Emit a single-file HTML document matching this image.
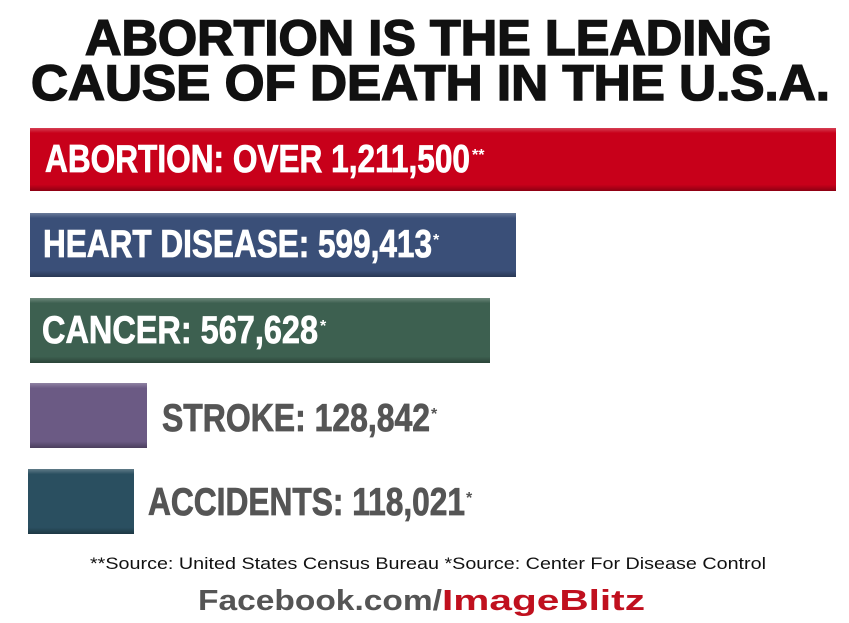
<!DOCTYPE html>
<html><head><meta charset="utf-8"><style>
html,body{margin:0;padding:0;background:#fff;width:849px;height:623px;overflow:hidden}
svg{display:block}
</style></head><body>
<svg width="849" height="623" viewBox="0 0 849 623" xmlns="http://www.w3.org/2000/svg">
<defs>
<linearGradient id="sh" x1="0" y1="0" x2="0" y2="1">
<stop offset="0" stop-color="#fff" stop-opacity="0.25"/>
<stop offset="0.08" stop-color="#fff" stop-opacity="0"/>
<stop offset="0.9" stop-color="#000" stop-opacity="0"/>
<stop offset="1" stop-color="#000" stop-opacity="0.3"/>
</linearGradient>
</defs>
<g font-family="'Liberation Sans',Arial,sans-serif" font-weight="bold">
<text x="85" y="55" font-size="50" textLength="687" lengthAdjust="spacingAndGlyphs" fill="#111" stroke="#111" stroke-width="1.5">ABORTION IS THE LEADING</text>
<text x="31" y="100" font-size="50" textLength="799" lengthAdjust="spacingAndGlyphs" fill="#111" stroke="#111" stroke-width="1.5">CAUSE OF DEATH IN THE U.S.A.</text>

<rect x="30" y="128" width="806" height="63" fill="#c8001a"/><rect x="30" y="128" width="806" height="63" fill="url(#sh)"/>
<rect x="30" y="213" width="486" height="64" fill="#3a4f78"/><rect x="30" y="213" width="486" height="64" fill="url(#sh)"/>
<rect x="30" y="298" width="460" height="65" fill="#3d6050"/><rect x="30" y="298" width="460" height="65" fill="url(#sh)"/>
<rect x="30" y="383" width="117" height="65" fill="#6b5a84"/><rect x="30" y="383" width="117" height="65" fill="url(#sh)"/>
<rect x="28" y="469" width="106" height="65" fill="#2a4f60"/><rect x="28" y="469" width="106" height="65" fill="url(#sh)"/>

<g stroke-width="0.8">
<text x="45" y="172" font-size="39" fill="#fff" stroke="#fff" textLength="425" lengthAdjust="spacingAndGlyphs">ABORTION: OVER 1,211,500</text>
<text x="472" y="160" font-size="16" fill="#fff">**</text>
<text x="43" y="257" font-size="39" fill="#fff" stroke="#fff" textLength="389" lengthAdjust="spacingAndGlyphs">HEART DISEASE: 599,413</text>
<text x="433" y="245" font-size="16" fill="#fff">*</text>
<text x="42" y="343" font-size="39" fill="#fff" stroke="#fff" textLength="276" lengthAdjust="spacingAndGlyphs">CANCER: 567,628</text>
<text x="320" y="331" font-size="16" fill="#fff">*</text>
<text x="162" y="431" font-size="39" fill="#555" stroke="#555" textLength="268" lengthAdjust="spacingAndGlyphs">STROKE: 128,842</text>
<text x="431" y="419" font-size="16" fill="#555">*</text>
<text x="148" y="515" font-size="39" fill="#555" stroke="#555" textLength="317" lengthAdjust="spacingAndGlyphs">ACCIDENTS: 118,021</text>
<text x="466" y="503" font-size="16" fill="#555">*</text>
</g>

<text x="90" y="569" font-size="17" font-weight="normal" fill="#111" textLength="676" lengthAdjust="spacingAndGlyphs">**Source: United States Census Bureau   *Source: Center For Disease Control</text>
<text x="198" y="610" font-size="29" fill="#555" textLength="244" lengthAdjust="spacingAndGlyphs">Facebook.com/</text>
<text x="442" y="610" font-size="29" fill="#c0101e" textLength="203" lengthAdjust="spacingAndGlyphs">ImageBlitz</text>
</g>
</svg>
</body></html>
